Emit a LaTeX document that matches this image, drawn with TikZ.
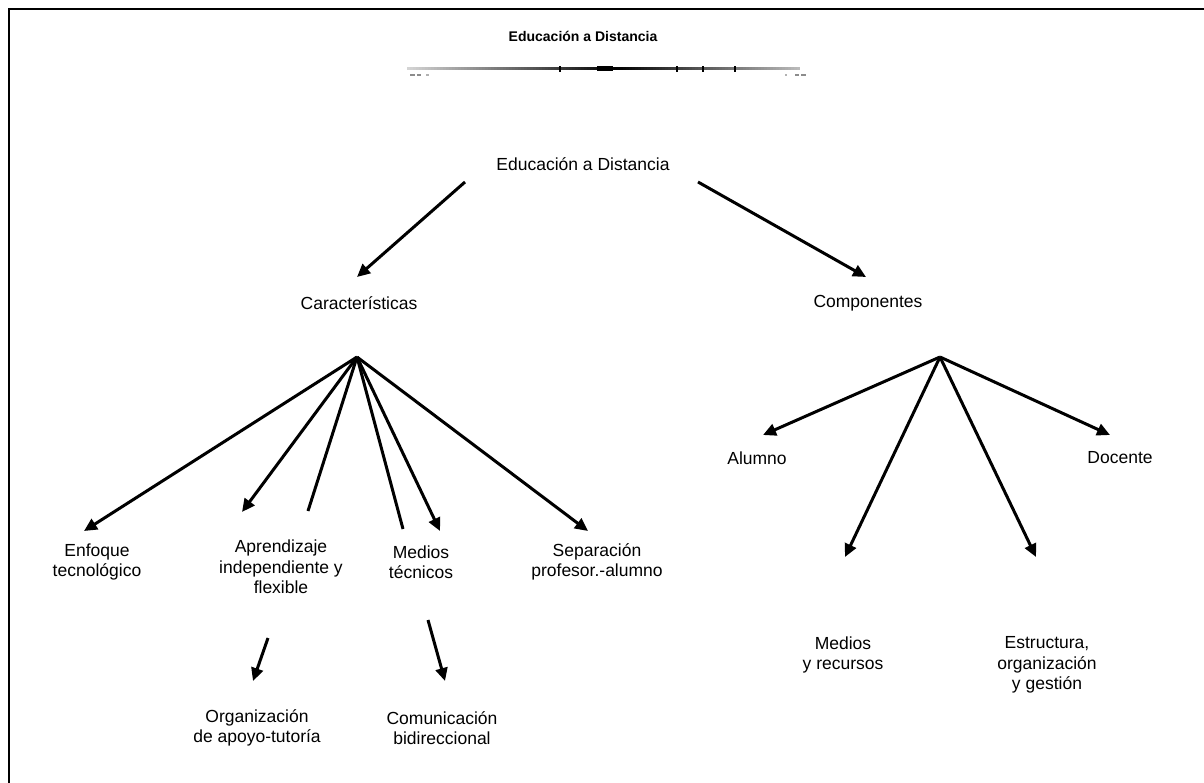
\documentclass[tikz,border=0pt]{standalone}
\usepackage{fontspec}
\setmainfont{Liberation Sans}
\usetikzlibrary{arrows.meta}
\begin{document}
\begin{tikzpicture}[x=1pt,y=-1pt,
  lbl/.style={font=\fontsize{17.5}{20.5}\selectfont, align=center, inner sep=0pt},
  ttl/.style={font=\bfseries\fontsize{14}{16}\selectfont, inner sep=0pt},
  arr/.style={line width=3pt, -{Triangle[length=13pt,width=12pt]}},
  ln/.style={line width=3pt}]
\useasboundingbox (0,0) rectangle (1204,783);
\fill[white] (0,0) rectangle (1204,783);
% frame (only top and left edges visible)
\draw[line width=2.2pt] (9,783) -- (9,9) -- (1204,9);

% title and decorative bar
\node[ttl] (title) at (583,36) {Educación a Distancia};
\foreach \i in {0,...,130} {
  \pgfmathsetmacro\xx{407+3*\i}
  \pgfmathsetmacro\dd{max(10,100-0.40*abs(\xx-615))}
  \fill[black!\dd] (\xx,67.5) rectangle (\xx+3.1,70.5);
}
\fill[black] (597,66.5) rectangle (613,71.5);
\foreach \xx in {560,677,703,735} \fill[black] (\xx-0.6,66) rectangle (\xx+0.6,72);
\fill[black!45] (410,74.3) rectangle (415,75.7);
\fill[black!45] (417,74.3) rectangle (421,75.7);
\fill[black!30] (426,74.3) rectangle (429,75.7);
\fill[black!30] (785,74.3) rectangle (787,75.7);
\fill[black!45] (795,74.3) rectangle (799,75.7);
\fill[black!45] (801,74.3) rectangle (806,75.7);

% main nodes
\node[lbl] (ed) at (583,164) {Educación a Distancia};
\node[lbl] (car) at (359,303) {Características};
\node[lbl] (com) at (868,303) {Componentes};

\coordinate (edL) at (465,182);
\coordinate (edR) at (698,182);
\coordinate (carT) at (357,277);
\coordinate (comT) at (866,277);
\draw[arr] (edL) -- (carT);
\draw[arr] (edR) -- (comT);

% hubs
\coordinate (hubL) at (357,357);
\coordinate (hubR) at (940,357);

% left children
\node[lbl] (enf) at (97,562) {Enfoque\\tecnológico};
\node[lbl] (apr) at (281,567) {Aprendizaje\\independiente y\\flexible};
\node[lbl] (med) at (421,562) {Medios\\técnicos};
\node[lbl] (sep) at (597,562) {Separación\\profesor.-alumno};
\node[lbl] (org) at (257,728) {Organización\\de apoyo-tutoría};
\node[lbl] (cbi) at (442,728) {Comunicación\\bidireccional};

\coordinate (enfT) at (84,531);
\coordinate (aprT) at (242,512);
\coordinate (aprE) at (308,511);
\coordinate (medE) at (403,529);
\coordinate (medT) at (440,531);
\coordinate (sepT) at (588,531);
\coordinate (orgS) at (268,638);
\coordinate (orgT) at (253,681);
\coordinate (cbiS) at (428,620);
\coordinate (cbiT) at (445,681);

\draw[arr] (hubL) -- (enfT);
\draw[arr] (hubL) -- (aprT);
\draw[ln] (hubL) -- (aprE);
\draw[ln] (hubL) -- (medE);
\draw[arr] (hubL) -- (medT);
\draw[arr] (hubL) -- (sepT);
\draw[arr] (orgS) -- (orgT);
\draw[arr] (cbiS) -- (cbiT);

% right children
\node[lbl] (alu) at (757,458) {Alumno};
\node[lbl] (doc) at (1120,458) {Docente};
\node[lbl] (mer) at (843,655) {Medios\\y recursos};
\node[lbl] (est) at (1047,665) {Estructura,\\organización\\y gestión};

\coordinate (aluT) at (763,435);
\coordinate (docT) at (1110,435);
\coordinate (merT) at (845,557);
\coordinate (estT) at (1036,557);

\draw[arr] (hubR) -- (aluT);
\draw[arr] (hubR) -- (docT);
\draw[arr] (hubR) -- (merT);
\draw[arr] (hubR) -- (estT);
\end{tikzpicture}
\end{document}
